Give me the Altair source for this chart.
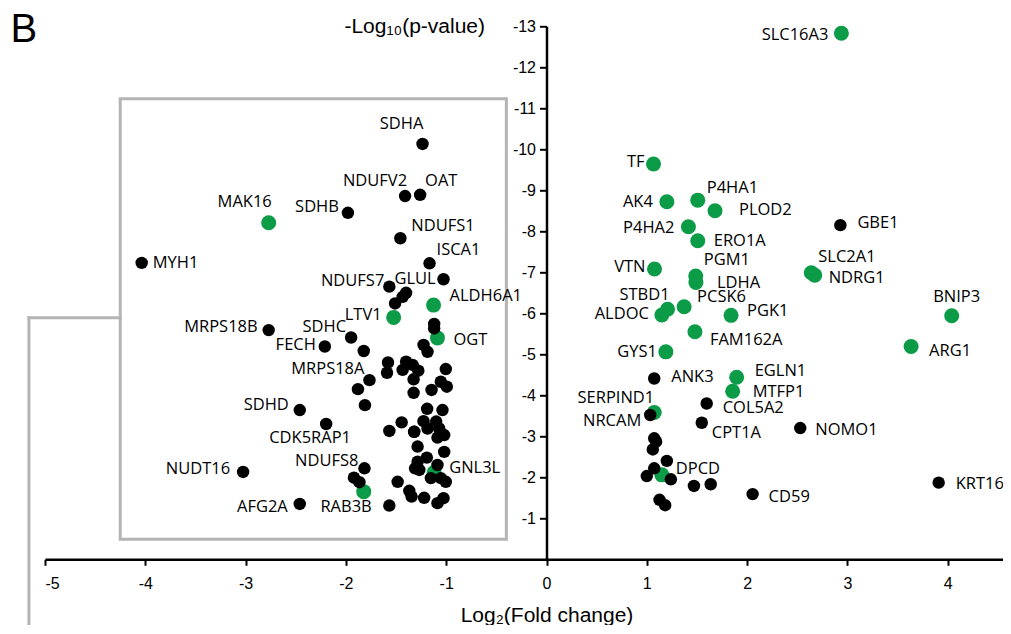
import altair as alt
import pandas as pd

# ---------------- data ----------------
genes = [
    # left side, black
    "SDHA", "NDUFV2", "OAT", "SDHB", "NDUFS1", "MYH1", "ISCA1", "", "NDUFS7", "GLUL",
    "", "", "", "", "SDHC", "MRPS18B", "FECH", "", "", "",
    "", "", "", "", "", "", "", "MRPS18A", "", "",
    "", "", "", "", "", "",
    "", "", "", "", "", "", "", "", "", "",
    "", "", "", "", "", "", "", "", "", "",
    "NDUFS8", "", "", "", "", "", "", "", "", "",
    "SDHD", "CDK5RAP1", "NUDT16", "AFG2A", "",
    # left side, green
    "MAK16", "ALDH6A1", "LTV1", "OGT", "RAB3B", "GNL3L",
    # right side, black
    "GBE1", "ANK3", "COL5A2", "NRCAM", "CPT1A", "NOMO1", "", "", "", "",
    "", "", "", "", "", "CD59", "KRT16", "", "",
    # right side, green
    "SLC16A3", "TF", "AK4", "P4HA1", "PLOD2", "P4HA2", "ERO1A", "VTN", "PGM1", "LDHA",
    "SLC2A1", "NDRG1", "STBD1", "PCSK6", "ALDOC", "PGK1", "BNIP3", "FAM162A", "GYS1", "ARG1",
    "EGLN1", "MTFP1", "SERPIND1", "DPCD",
]
log2fc = [
    -1.236, -1.41, -1.26, -1.98, -1.457, -4.036, -1.166, -1.027, -1.567, -1.40,
    -1.434, -1.51, -1.12, -1.12, -1.948, -2.77, -2.21, -1.822, -1.226, -1.186,
    -1.58, -1.59, -1.40, -1.434, -1.335, -1.278, -1.325, -1.765, -1.325, -1.004,
    -1.054, -0.994, -1.146, -1.88, -1.81, -1.31,
    -1.19, -1.037, -1.226, -1.10, -1.444, -1.567, -1.318, -1.186, -1.07, -1.02,
    -1.087, -1.285, -1.02, -1.285, -1.193, -1.268, -1.087, -1.153, -1.054, -1.004,
    -1.815, -1.92, -1.865, -1.484, -1.368, -1.345, -1.22, -1.087, -1.027, -1.567,
    -2.46, -2.197, -3.025, -2.46, -1.32,
    -2.77, -1.126, -1.524, -1.087, -1.822, -1.12,
    2.93, 1.074, 1.597, 1.034, 1.548, 2.53, 1.074, 1.093, 1.06, 1.20,
    1.074, 1.24, 1.0, 1.47, 1.637, 2.055, 3.91, 1.127, 1.183,
    2.94, 1.067, 1.20, 1.508, 1.68, 1.415, 1.508, 1.077, 1.488, 1.49,
    2.64, 2.674, 1.207, 1.372, 1.15, 1.84, 4.04, 1.48, 1.19, 3.635,
    1.896, 1.856, 1.074, 1.15,
]
neglog10p = [
    10.13, 8.86, 8.89, 8.45, 7.83, 7.23, 7.22, 6.83, 6.65, 6.50,
    6.40, 6.24, 5.74, 5.63, 5.41, 5.59, 5.19, 5.08, 5.23, 5.06,
    4.80, 4.55, 4.82, 4.62, 4.74, 4.60, 4.39, 4.37, 4.06, 4.64,
    4.33, 4.21, 4.13, 4.15, 3.76, 2.22,
    3.67, 3.64, 3.37, 3.36, 3.34, 3.13, 3.11, 3.19, 3.19, 3.03,
    2.97, 2.75, 2.62, 2.38, 2.48, 2.18, 2.30, 1.98, 1.98, 1.89,
    2.22, 1.99, 1.88, 1.89, 1.67, 1.53, 1.50, 1.37, 1.49, 1.31,
    3.64, 3.30, 2.13, 1.35, 3.11,
    8.21, 6.20, 5.90, 5.40, 1.65, 2.12,
    8.15, 4.41, 3.80, 3.52, 3.33, 3.20, 2.95, 2.87, 2.68, 2.40,
    2.22, 1.95, 2.03, 1.79, 1.83, 1.59, 1.87, 1.45, 1.32,
    12.83, 9.64, 8.72, 8.76, 8.50, 8.11, 7.77, 7.08, 6.91, 6.75,
    6.99, 6.93, 6.10, 6.16, 5.96, 5.95, 5.94, 5.55, 5.06, 5.19,
    4.44, 4.10, 3.58, 2.06,
]
group = (["other"] * 71 + ["hypoxia"] * 6 + ["other"] * 19 + ["hypoxia"] * 24)

# label layout: gene -> (align, dx px, dy px) relative to its point
label_layout = {
    "SDHA": ("center", -21, -20), "NDUFV2": ("right", 2, -15), "OAT": ("left", 5, -14),
    "MAK16": ("center", -24, -21), "SDHB": ("right", -9, -6), "NDUFS1": ("left", 11, -12),
    "MYH1": ("left", 11, 0), "ISCA1": ("left", 7, -13), "NDUFS7": ("right", -5, -6),
    "GLUL": ("center", 9, -14), "ALDH6A1": ("left", 16, -9), "LTV1": ("right", -12, -2),
    "MRPS18B": ("right", -11, -3), "SDHC": ("right", -5, -10), "FECH": ("right", -9, -2),
    "OGT": ("left", 16, 2), "MRPS18A": ("right", -5, -11), "SDHD": ("right", -11, -5),
    "CDK5RAP1": ("center", -16, 14), "NUDT16": ("right", -13, -3), "NDUFS8": ("right", -6, -7),
    "GNL3L": ("left", 15, -4), "AFG2A": ("right", -12, 3), "RAB3B": ("right", 8, 15),
    "SLC16A3": ("right", -13, 2), "TF": ("right", -9, -2), "AK4": ("right", -14, 0),
    "P4HA1": ("left", 9, -12), "PLOD2": ("left", 24, -1), "GBE1": ("left", 17, -2),
    "P4HA2": ("right", -14, 1), "ERO1A": ("left", 16, 0), "VTN": ("right", -9, -2),
    "PGM1": ("left", 8, -16), "LDHA": ("left", 21, 0), "SLC2A1": ("left", 7, -16),
    "NDRG1": ("left", 14, 3), "BNIP3": ("center", 5, -19), "STBD1": ("right", 2, -14),
    "PCSK6": ("left", 13, -10), "ALDOC": ("right", -13, -1), "PGK1": ("left", 16, -4),
    "FAM162A": ("left", 15, 8), "GYS1": ("right", -9, 0), "ARG1": ("left", 18, 4),
    "ANK3": ("left", 17, -1), "EGLN1": ("left", 18, -6), "MTFP1": ("left", 20, 1),
    "SERPIND1": ("right", 0, -15), "COL5A2": ("left", 16, 5), "NRCAM": ("right", -9, 6),
    "CPT1A": ("left", 10, 10), "NOMO1": ("left", 15, 2), "DPCD": ("left", 14, -6),
    "CD59": ("left", 16, 3), "KRT16": ("left", 17, 1),
}

# annotation shapes in data units
box_x = [-4.25, -0.40]
box_y = [0.49, 11.23]
bracket_x = [-5.16, -4.25]
bracket_y = [5.89, -2.2]
panel_letter = ["B"]
panel_pos = [-5.345, 12.62]

# ---------------- layout ----------------
PAD_L = 37
TOTAL_W = 995
W = TOTAL_W - PAD_L
H = 533
px_x = 100.3
XMIN = -5
XMAX = XMIN + W / px_x
YMIN, YMAX = 0, 13
px_y = H / (YMAX - YMIN)
GREEN = "#0c9b47"
GRAY = "#b4b4b4"

df = pd.DataFrame({"gene": genes, "fc": log2fc, "p": neglog10p, "grp": group})
df = pd.concat([df[df["grp"] == "hypoxia"], df[df["grp"] == "other"]]).reset_index(drop=True)

rows = []
for g, (al, dx, dy) in label_layout.items():
    r = df[df["gene"] == g].iloc[0]
    rows.append({"gene": g, "anchor": al, "lx": r["fc"] + dx / px_x, "ly": r["p"] - dy / px_y})
lab = pd.DataFrame(rows)

xs = alt.Scale(domain=[XMIN, XMAX], nice=False, zero=False)
ys = alt.Scale(domain=[YMIN, YMAX], nice=False, zero=False)

x_axis = alt.Axis(
    values=list(range(-5, 5)), labelExpr="'' + datum.value", grid=False,
    domainColor="black", domainWidth=2.5, tickColor="black", tickWidth=2, tickSize=6,
    labelFont="Liberation Sans", labelFontSize=16, labelColor="black", labelPadding=10,
    title="Log₂(Fold change)", titleFont="Liberation Sans", titleFontSize=21,
    titleFontWeight="normal", titleColor="black", titleX=5 * px_x, titleY=62,
    titleAlign="center", titleBaseline="alphabetic",
)
y_axis = alt.Axis(
    orient="left", offset=-5 * px_x, values=list(range(1, 14)),
    labelExpr="'-' + datum.value", grid=False,
    domainColor="black", domainWidth=2.5, tickColor="black", tickWidth=2, tickSize=7,
    labelFont="Liberation Sans", labelFontSize=16, labelColor="black", labelPadding=4,
    title="-Log₁₀(p-value)", titleFont="Liberation Sans", titleFontSize=21,
    titleFontWeight="normal", titleColor="black", titleAngle=0, titleAlign="right",
    titleBaseline="alphabetic", titleX=-62, titleY=6.5,
)

base_x = alt.X("fc:Q", scale=xs, axis=x_axis)
base_y = alt.Y("p:Q", scale=ys, axis=y_axis)

box = alt.Chart(pd.DataFrame({"x": [box_x[0]], "x2": [box_x[1]], "y": [box_y[0]], "y2": [box_y[1]]})).mark_rect(
    fillOpacity=0, stroke=GRAY, strokeWidth=3
).encode(x=alt.X("x:Q", scale=xs), x2="x2:Q", y=alt.Y("y:Q", scale=ys), y2="y2:Q")

bracket = alt.Chart(pd.DataFrame({
    "x": [bracket_x[0], bracket_x[0]], "x2": [bracket_x[1], bracket_x[0]],
    "y": [bracket_y[0], bracket_y[0]], "y2": [bracket_y[0], bracket_y[1]],
})).mark_rule(color=GRAY, strokeWidth=3, strokeCap="square").encode(
    x=alt.X("x:Q", scale=xs), x2="x2:Q", y=alt.Y("y:Q", scale=ys), y2="y2:Q"
)

points = alt.Chart(df).mark_circle(opacity=1).encode(
    x=base_x, y=base_y,
    color=alt.Color("grp:N", scale=alt.Scale(domain=["hypoxia", "other"], range=[GREEN, "black"]), legend=None),
    size=alt.Size("grp:N", scale=alt.Scale(domain=["hypoxia", "other"], range=[225, 155]), legend=None),
)

layers = [box, bracket, points]
for al in ["left", "right", "center"]:
    layers.append(
        alt.Chart(lab[lab["anchor"] == al]).mark_text(
            align=al, baseline="middle", font="Open Sans", fontSize=16.5, color="black"
        ).encode(x=alt.X("lx:Q", scale=xs), y=alt.Y("ly:Q", scale=ys), text="gene:N")
    )

letter = alt.Chart(pd.DataFrame({"t": panel_letter, "x": [panel_pos[0]], "y": [panel_pos[1]]})).mark_text(
    align="left", baseline="alphabetic", font="Liberation Sans", fontSize=40, color="black"
).encode(x=alt.X("x:Q", scale=xs), y=alt.Y("y:Q", scale=ys), text="t:N")
layers.append(letter)

chart = alt.layer(*layers).properties(
    width=W, height=H,
    autosize=alt.AutoSizeParams(type="none"),
    padding={"left": PAD_L, "top": 18.3, "right": 0, "bottom": 66},
).configure_view(stroke=None)

chart.save("out.html", embed_options={"renderer": "svg", "actions": False})
